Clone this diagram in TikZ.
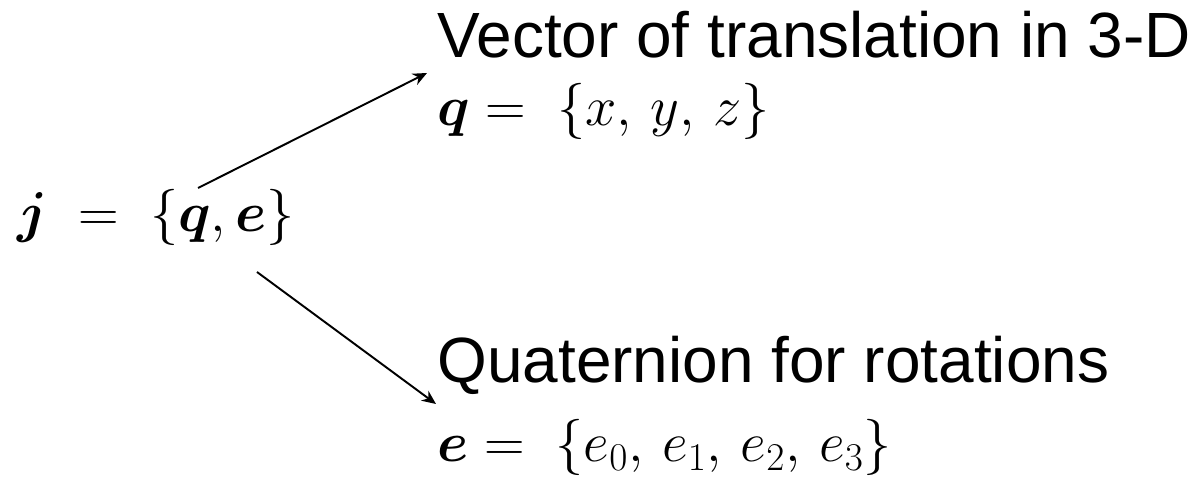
\RequirePackage{fix-cm}
\documentclass[tikz,border=0pt]{standalone}
\usepackage{amsmath,amssymb,bm}
\usepackage[no-math]{fontspec}
\setmainfont{Liberation Sans}
\usepackage{tikz}
\usetikzlibrary{arrows.meta, positioning, calc}

\begin{document}
\begin{tikzpicture}[
  x=0.02cm, y=-0.02cm,
  every node/.style={font=\fontsize{36.4}{44}\selectfont, inner sep=0pt},
  txt/.style={anchor=base west},
  mth/.style={txt, font=\fontsize{32}{40}\selectfont},
  arr/.style={-{Stealth[length=8pt,width=7pt]}, line width=1.1pt}
]
\useasboundingbox (0,0) rectangle (1204,482);

%% joint
\node[mth] (jvec) at (17,232) {$\bm{j}\ =\ \{\bm{q},\bm{e}\}$};

%% translation part
\node[txt] (trans) at (437,58)  {Vector of translation in 3-D};
\node[mth] (qvec)  at (437,126) {$\bm{q} =\ \{x,\,y,\,z\}$};

%% rotation part
\node[txt] (quat) at (437,383) {Quaternion for rotations};
\node[mth] (evec) at (437,462) {$\bm{e} =\ \{e_0,\,e_1,\,e_2,\,e_3\}$};

%% arrows
\coordinate (jup) at (198,188);
\coordinate (jdn) at (257,272);
\draw[arr] (jup) -- ($(trans.base west)+(-10,15)$);
\draw[arr] (jdn) -- ($(quat.base west)+(-1,21)$);
\end{tikzpicture}
\end{document}
